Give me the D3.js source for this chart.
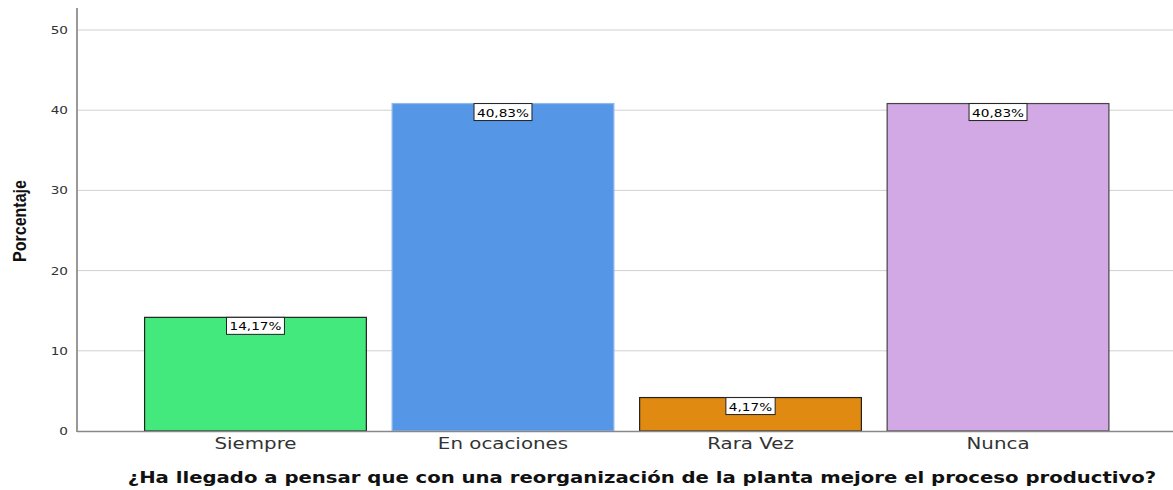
<!DOCTYPE html>
<html>
<head>
<meta charset="utf-8">
<script src="https://cdn.jsdelivr.net/npm/d3@7"></script>
<style>
  body { margin: 0; background: #fff; }
  svg { display: block; font-family: "DejaVu Sans", Verdana, sans-serif; }
</style>
</head>
<body>
<div id="chart"></div>
<script>
// data
var categories = ["Siempre", "En ocaciones", "Rara Vez", "Nunca"];
var values = [14.17, 40.83, 4.17, 40.83];
var labels = ["14,17%", "40,83%", "4,17%", "40,83%"];
var colors = ["#43e97d", "#5596e6", "#e08a12", "#d2a9e4"];
var strokes = ["#222", "#8fb8ef", "#222", "#444"];
var yTicks = [0, 10, 20, 30, 40, 50];

var width = 1173, height = 490;
var margin = {top: 8, right: 0, bottom: 59, left: 77};
var sx = 1.24; // the original text is drawn wide

var svg = d3.select("#chart").append("svg")
  .attr("width", width)
  .attr("height", height);

var x = d3.scaleBand()
  .domain(categories)
  .range([margin.left + 1.5, width + 2])
  .paddingInner(0.1)
  .paddingOuter(0.265);

var y = d3.scaleLinear()
  .domain([0, 50])
  .range([height - margin.bottom, 30]);

// gridlines
svg.append("g")
  .selectAll("line")
  .data(yTicks.slice(1))
  .enter().append("line")
  .attr("x1", margin.left)
  .attr("x2", width)
  .attr("y1", d => y(d))
  .attr("y2", d => y(d))
  .attr("stroke", "#d0d0d0")
  .attr("stroke-width", 1);

// bars
var bars = svg.append("g").selectAll("g.bar")
  .data(categories)
  .enter().append("g")
  .attr("class", "bar");

bars.append("rect")
  .attr("x", d => x(d) + 0.5)
  .attr("y", (d, i) => y(values[i]))
  .attr("width", x.bandwidth() - 1)
  .attr("height", (d, i) => y(0) - y(values[i]))
  .attr("fill", (d, i) => colors[i])
  .attr("stroke", (d, i) => strokes[i])
  .attr("stroke-width", 1.2);

// value labels
bars.each(function(d, i) {
  var g = d3.select(this);
  var cx = x(d) + x.bandwidth() / 2;
  var top = y(values[i]);
  var t = g.append("text")
    .attr("transform", "translate(" + cx + "," + (top + 13) + ") scale(" + sx + ",1)")
    .attr("text-anchor", "middle")
    .attr("font-size", "11px")
    .attr("fill", "#000")
    .text(labels[i]);
  var w = t.node().getComputedTextLength() * sx + 6;
  g.insert("rect", "text")
    .attr("x", cx - w / 2)
    .attr("y", top)
    .attr("width", w)
    .attr("height", 17)
    .attr("fill", "#fff")
    .attr("stroke", "#222")
    .attr("stroke-width", 1);
});

// y axis
var yAxis = svg.append("g")
  .attr("transform", "translate(" + margin.left + ",0)")
  .call(d3.axisLeft(y).tickValues(yTicks).tickSize(0).tickPadding(9));
yAxis.select(".domain").remove();
yAxis.selectAll("text")
  .attr("x", -9 / sx)
  .attr("transform", "scale(" + sx + ",1)")
  .attr("font-size", "11px")
  .attr("fill", "#333")
  .attr("font-family", "DejaVu Sans, Verdana, sans-serif");

svg.append("line")
  .attr("x1", margin.left).attr("x2", margin.left)
  .attr("y1", margin.top).attr("y2", y(0) + 1)
  .attr("stroke", "#999").attr("stroke-width", 2);

// x baseline
svg.append("line")
  .attr("x1", margin.left).attr("x2", width)
  .attr("y1", y(0) + 0.5).attr("y2", y(0) + 0.5)
  .attr("stroke", "#888").attr("stroke-width", 1.5);

// x axis labels
var xAxis = svg.append("g")
  .attr("transform", "translate(0," + y(0) + ")")
  .call(d3.axisBottom(x).tickSize(0).tickPadding(7));
xAxis.select(".domain").remove();
xAxis.selectAll("text")
  .attr("transform", "scale(" + sx + ",1)")
  .attr("font-size", "16px")
  .attr("fill", "#333")
  .attr("font-family", "DejaVu Sans, Verdana, sans-serif");

// axis titles ("Porcentaje" is a narrow bold face in the original)
var ytitle = svg.append("text")
  .attr("text-anchor", "middle")
  .attr("font-family", "Liberation Sans, Arial, sans-serif")
  .attr("font-weight", "bold")
  .attr("font-size", "19px")
  .attr("fill", "#111")
  .text("Porcentaje");
var yl = ytitle.node().getComputedTextLength();
ytitle.attr("transform", "translate(26,221) rotate(-90) scale(" + (82 / yl) + ",1)");

var title = svg.append("text")
  .attr("text-anchor", "middle")
  .attr("font-weight", "bold")
  .attr("font-size", "15px")
  .attr("fill", "#111")
  .text("¿Ha llegado a pensar que con una reorganización de la planta mejore el proceso productivo?");
var tw = title.node().getComputedTextLength();
title.attr("transform", "translate(642,483) scale(" + (1029 / tw) + ",1)");
</script>
</body>
</html>
